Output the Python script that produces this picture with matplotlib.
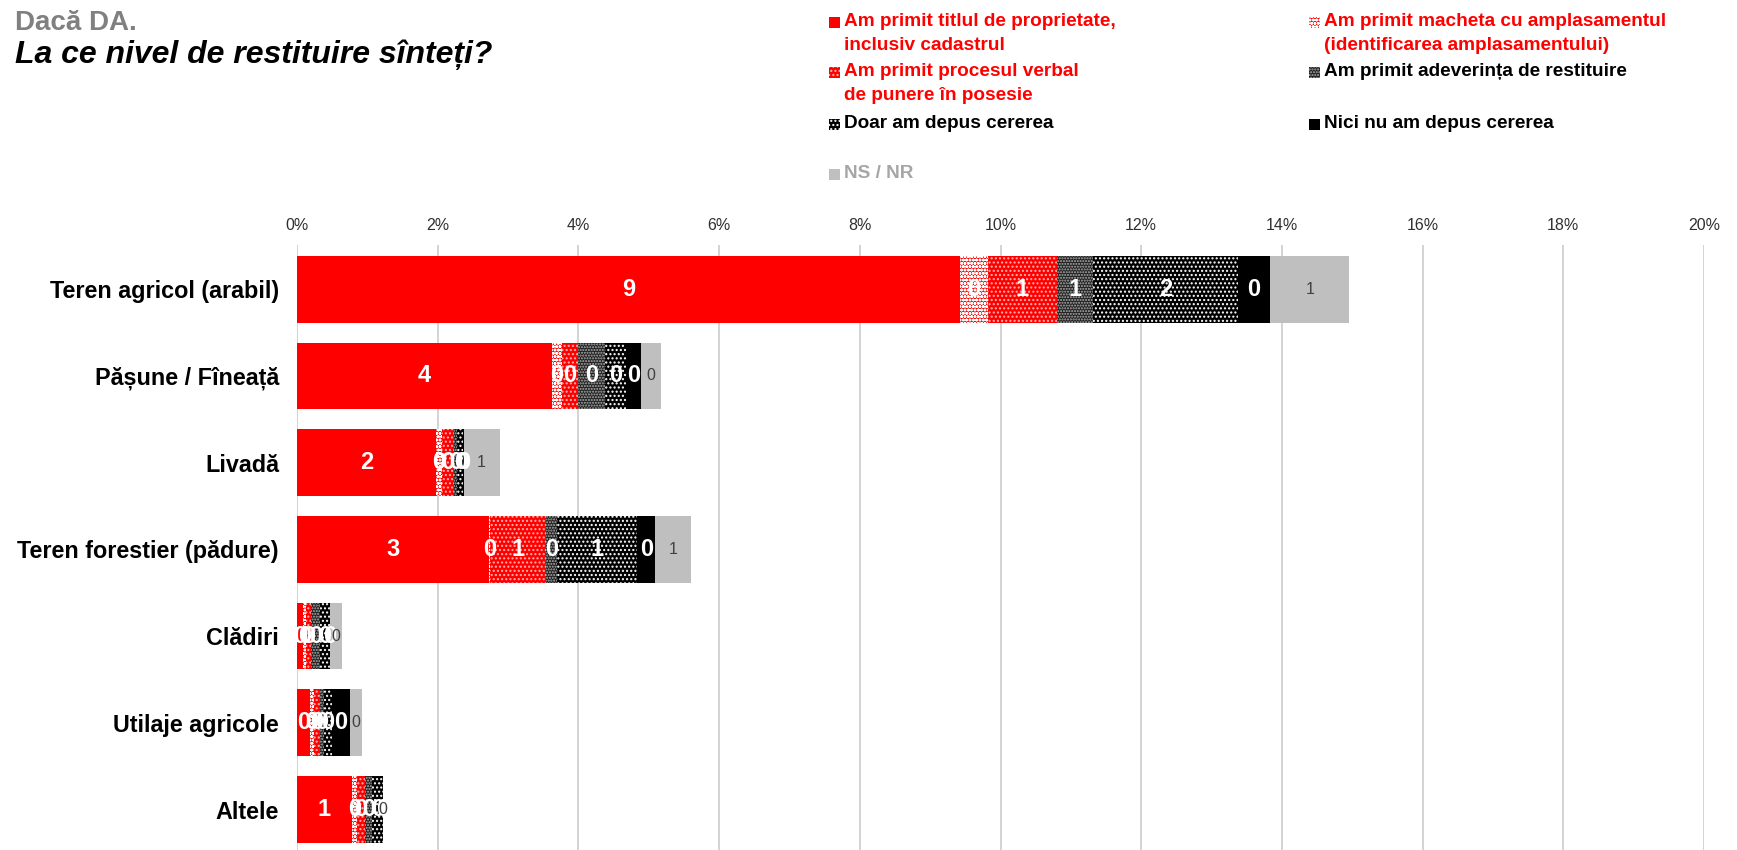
import matplotlib
matplotlib.use("Agg")
import matplotlib.pyplot as plt
from matplotlib.patches import Rectangle
from matplotlib import font_manager
import numpy as np

plt.rcParams['font.family'] = ['Liberation Sans', 'DejaVu Sans']
plt.rcParams['hatch.linewidth'] = 1.0

# ---------------- data ----------------
categories = ["Teren agricol (arabil)", "Pășune / Fîneață", "Livadă",
              "Teren forestier (pădure)", "Clădiri", "Utilaje agricole", "Altele"]

titlu      = [9.43, 3.62, 1.98, 2.73, 0.09, 0.19, 0.78]
macheta    = [0.39, 0.14, 0.08, 0.02, 0.04, 0.05, 0.07]
verbal     = [0.98, 0.24, 0.17, 0.79, 0.07, 0.08, 0.12]
adeverinta = [0.52, 0.38, 0.05, 0.15, 0.13, 0.06, 0.10]
doar       = [2.06, 0.29, 0.08, 1.15, 0.14, 0.12, 0.15]
nici       = [0.45, 0.22, 0.01, 0.25, 0.00, 0.25, 0.00]
nsnr       = [1.13, 0.29, 0.51, 0.51, 0.17, 0.17, 0.00]

series_names = ["Am primit titlul de proprietate,\ninclusiv cadastrul",
                "Am primit macheta cu amplasamentul\n(identificarea amplasamentului)",
                "Am primit procesul verbal\nde punere în posesie",
                "Am primit adeverința de restituire",
                "Doar am depus cererea",
                "Nici nu am depus cererea",
                "NS / NR"]
xticks = [0, 2, 4, 6, 8, 10, 12, 14, 16, 18, 20]

series = [titlu, macheta, verbal, adeverinta, doar, nici, nsnr]
styles = [
    dict(face="#FF0000", hatch=None, hc="#FF0000"),
    dict(face="#FF0000", hatch="ooooo", hc="#FFFFFF"),
    dict(face="#FF0000", hatch="....", hc="#FFB0B0"),
    dict(face="#202020", hatch="......", hc="#B0B0B0"),
    dict(face="#000000", hatch="....", hc="#FFFFFF"),
    dict(face="#000000", hatch=None, hc="#000000"),
    dict(face="#BFBFBF", hatch=None, hc="#BFBFBF"),
]
text_colors = ["#FF0000", "#FF0000", "#FF0000", "#000000", "#000000", "#000000", "#A6A6A6"]

# legend font: condensed if available
names = {f.name for f in font_manager.fontManager.ttflist}
if "Liberation Sans Narrow" in names:
    leg_family, leg_size = ["Liberation Sans Narrow", "Liberation Sans"], 16.5
else:
    leg_family, leg_size = ["Liberation Sans", "DejaVu Sans"], 13.7

W, H = 1737, 850
fig = plt.figure(figsize=(W / 100, H / 100), dpi=100)
ax = fig.add_axes([297 / W, 0, (1704 - 297) / W, (850 - 245) / H])

y = np.arange(len(categories))
left = np.zeros(len(categories))
for i, (vals, st) in enumerate(zip(series, styles)):
    vals = np.array(vals)
    bars = ax.barh(y, vals, left=left, height=0.77, color=st["face"],
                   edgecolor=st["hc"], linewidth=0, hatch=st["hatch"], zorder=3)
    for j, (b, v) in enumerate(zip(bars, vals)):
        cx = left[j] + v / 2
        lab = "%d" % int(np.floor(v + 0.5))
        if i == len(series) - 1:
            ax.text(cx, y[j], lab, ha="center", va="center", fontsize=11.5,
                    color="#404040", zorder=5)
        else:
            ax.text(cx, y[j], lab, ha="center", va="center", fontsize=17,
                    fontweight="bold", color="white", zorder=5)
    left = left + vals

ax.set_xlim(0, 20)
ax.set_ylim(6.467, -0.51)
ax.set_xticks(xticks)
ax.set_xticklabels([f"{t}%" for t in xticks])
ax.xaxis.tick_top()
ax.tick_params(axis="x", length=0, pad=9, labelsize=11.5, labelcolor="#303030")
ax.set_yticks(y)
ax.set_yticklabels(categories, fontsize=16.8, fontweight="bold")
ax.tick_params(axis="y", length=0, pad=13)
ax.grid(axis="x", color="#CCCCCC", linewidth=1.2, zorder=0)
for s in ax.spines.values():
    s.set_visible(False)

# Titles
fig.text(15 / W, 1 - 23 / H, "Dacă DA.", fontsize=20, fontweight="bold",
         color="#808080", ha="left", va="center")
fig.text(15 / W, 1 - 55 / H, "La ce nivel de restituire sînteți?", fontsize=23,
         fontweight="bold", fontstyle="italic", color="black", ha="left", va="center")

# Legend (manual)
leg_pos = [(829, 22), (1309, 22), (829, 72), (1309, 72), (829, 124), (1309, 124), (829, 174)]
for (px, py), name, st, tc in zip(leg_pos, series_names, styles, text_colors):
    sq = 11
    fig.patches.append(Rectangle((px / W, 1 - (py + sq / 2) / H), sq / W, sq / H,
                                 transform=fig.transFigure, facecolor=st["face"],
                                 edgecolor=st["hc"], linewidth=0, hatch=st["hatch"]))
    for k, line in enumerate(name.split("\n")):
        fig.text((px + 15) / W, 1 - (py + k * 23) / H, line, fontsize=leg_size,
                 family=leg_family, fontweight="bold", color=tc, ha="left", va="center")

fig.savefig("out.png", dpi=100)
